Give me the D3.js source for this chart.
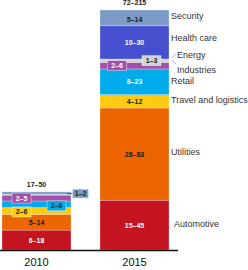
<!DOCTYPE html>
<html><head><meta charset="utf-8">
<script src="https://cdn.jsdelivr.net/npm/d3@7"></script>
<style>html,body{margin:0;padding:0;background:#fff;}svg{display:block;font-family:"Liberation Sans",Arial,sans-serif;}</style>
</head><body>
<script>
const years = ["2010", "2015"];
const categories = ["Automotive", "Utilities", "Travel and logistics", "Retail", "Industries", "Energy", "Health care", "Security"];
const colors = ["#c3141f", "#ec6500", "#fecb12", "#00aceb", "#a34fac", "#d3d3d3", "#464fcf", "#7b9bc6"];
// midpoint values of each range
const values2010 = [12, 9.5, 4, 4, 3.5, 0.5, 0, 1.5];
const values2015 = [30, 55.5, 8, 15.5, 4, 2, 20, 9.5];
const labels2010 = ["6–18", "5–14", "2–6", "2–6", "2–5", "", "", "1–2"];
const labels2015 = ["15–45", "28–83", "4–12", "8–23", "2–6", "1–3", "10–30", "5–14"];
const totals = ["17–50", "72–215"];

const W = 248, H = 270;
const svg = d3.select("body").append("svg").attr("width", W).attr("height", H);

const x = d3.scaleBand().domain(years).range([2, 169]).paddingInner(0.296).paddingOuter(0);
const y = d3.scaleLinear().domain([0, 144.5]).range([250, 10]);

const rows = years.map((yr, i) => {
  const o = {year: yr};
  const vals = i === 0 ? values2010 : values2015;
  categories.forEach((c, j) => o[c] = vals[j]);
  return o;
});
const stack = d3.stack().keys(categories)(rows);

// segments
stack.forEach((layer, li) => {
  svg.append("g").selectAll("rect").data(layer).join("rect")
    .attr("x", d => x(d.data.year))
    .attr("width", x.bandwidth())
    .attr("y", d => y(d[1]))
    .attr("height", d => Math.max(0, y(d[0]) - y(d[1])))
    .attr("fill", colors[li])
    .attr("stroke", d => (d[1] - d[0]) > 1 ? "rgba(255,255,255,0.45)" : "none")
    .attr("stroke-width", 0.6);
});

// label styles: mode "in" = inside text, "box" = boxed label with dx offset from bar centre
const darkText = "#1a1a1a";
const styles2010 = [
  {mode: "in", fill: "#fff"},
  {mode: "in", fill: darkText},
  {mode: "box", dx: -15, fill: darkText, dy: 1},
  {mode: "box", dx: 20, fill: darkText, dy: 1.5},
  {mode: "box", dx: -15, fill: "#fff", dy: 0},
  null, null,
  {mode: "out", fill: darkText, dy: 0.5}
];
const styles2015 = [
  {mode: "in", fill: "#fff"},
  {mode: "in", fill: darkText},
  {mode: "in", fill: darkText},
  {mode: "in", fill: "#fff"},
  {mode: "box", dx: -17.5, fill: "#fff", dy: 0},
  {mode: "box", dx: 17, fill: darkText, dy: 0},
  {mode: "in", fill: "#fff"},
  {mode: "in", fill: darkText, dy: 1.5}
];

const lab = svg.append("g").attr("font-size", 7).attr("font-weight", "bold");
years.forEach((yr, i) => {
  const labs = i === 0 ? labels2010 : labels2015;
  const sts = i === 0 ? styles2010 : styles2015;
  const cx = x(yr) + x.bandwidth() / 2;
  stack.forEach((layer, li) => {
    const st = sts[li];
    if (!st || !labs[li]) return;
    const d = layer[i];
    const cy = (y(d[0]) + y(d[1])) / 2 + (st.dy || 0);
    if (st.mode === "in") {
      lab.append("text").attr("x", cx).attr("y", cy).attr("dy", "0.36em")
        .attr("text-anchor", "middle").attr("fill", st.fill).text(labs[li]);
    } else if (st.mode === "box") {
      const bx = cx + st.dx;
      lab.append("rect").attr("x", bx - 9.5).attr("y", cy - 5).attr("width", 19).attr("height", 10)
        .attr("fill", colors[li]).attr("stroke", "rgba(255,255,255,0.6)").attr("stroke-width", 0.7);
      lab.append("text").attr("x", bx).attr("y", cy).attr("dy", "0.36em")
        .attr("text-anchor", "middle").attr("fill", st.fill).text(labs[li]);
    } else if (st.mode === "out") {
      const right = x(yr) + x.bandwidth();
      lab.append("line").attr("x1", right - 4).attr("x2", right + 2).attr("y1", cy).attr("y2", cy)
        .attr("stroke", "#555").attr("stroke-width", 1);
      const bx = right + 9.5;
      lab.append("rect").attr("x", bx - 8).attr("y", cy - 4.5).attr("width", 16).attr("height", 9)
        .attr("fill", colors[li]).attr("stroke", "rgba(255,255,255,0.6)").attr("stroke-width", 0.7);
      lab.append("text").attr("x", bx).attr("y", cy).attr("dy", "0.36em")
        .attr("text-anchor", "middle").attr("fill", st.fill).text(labs[li]);
    }
  });
  // total
  const top = stack[stack.length - 1][i][1];
  lab.append("text").attr("x", cx).attr("y", y(top) - 5)
    .attr("text-anchor", "middle").attr("fill", darkText).text(totals[i]);
});

// category labels to the right of 2015 bar
const catDy = [-1.5, -2, -1, -1, 0, 0, -5, -2];
const catG = svg.append("g").attr("font-size", 9).attr("fill", "#333");
const lx = x("2015") + x.bandwidth() + 2;
stack.forEach((layer, li) => {
  const d = layer[1];
  const c = categories[li];
  let cy = (y(d[0]) + y(d[1])) / 2 + catDy[li];
  if (c === "Energy") {
    cy = y(d[1]) - 4;
    catG.append("line").attr("x1", lx + 1).attr("y1", cy + 3).attr("x2", lx + 5).attr("y2", cy - 1.5)
      .attr("stroke", "#999").attr("stroke-width", 0.8);
    catG.append("text").attr("x", lx + 6).attr("y", cy).attr("dy", "0.35em").text(c);
  } else if (c === "Industries") {
    cy = y(d[0]) + 1;
    catG.append("line").attr("x1", lx + 1).attr("y1", cy - 10).attr("x2", lx + 5).attr("y2", cy - 6)
      .attr("stroke", "#999").attr("stroke-width", 0.8);
    catG.append("text").attr("x", lx + 6).attr("y", cy).attr("dy", "0.35em").text(c);
  } else {
    catG.append("text").attr("x", lx + (c === "Automotive" ? 3 : 0)).attr("y", cy).attr("dy", "0.35em").text(c);
  }
});

// axis
const axis = d3.axisBottom(x).tickSize(0).tickPadding(8);
const ag = svg.append("g").attr("transform", "translate(0,250.5)").call(axis);
ag.select(".domain").remove();
ag.append("line").attr("x1", 0).attr("x2", 178).attr("y1", 0).attr("y2", 0).attr("stroke", "#111").attr("stroke-width", 1.5);
ag.selectAll(".tick text").attr("font-size", 11).attr("fill", "#111").attr("font-family", "Liberation Sans, Arial, sans-serif");
</script>
</body></html>
